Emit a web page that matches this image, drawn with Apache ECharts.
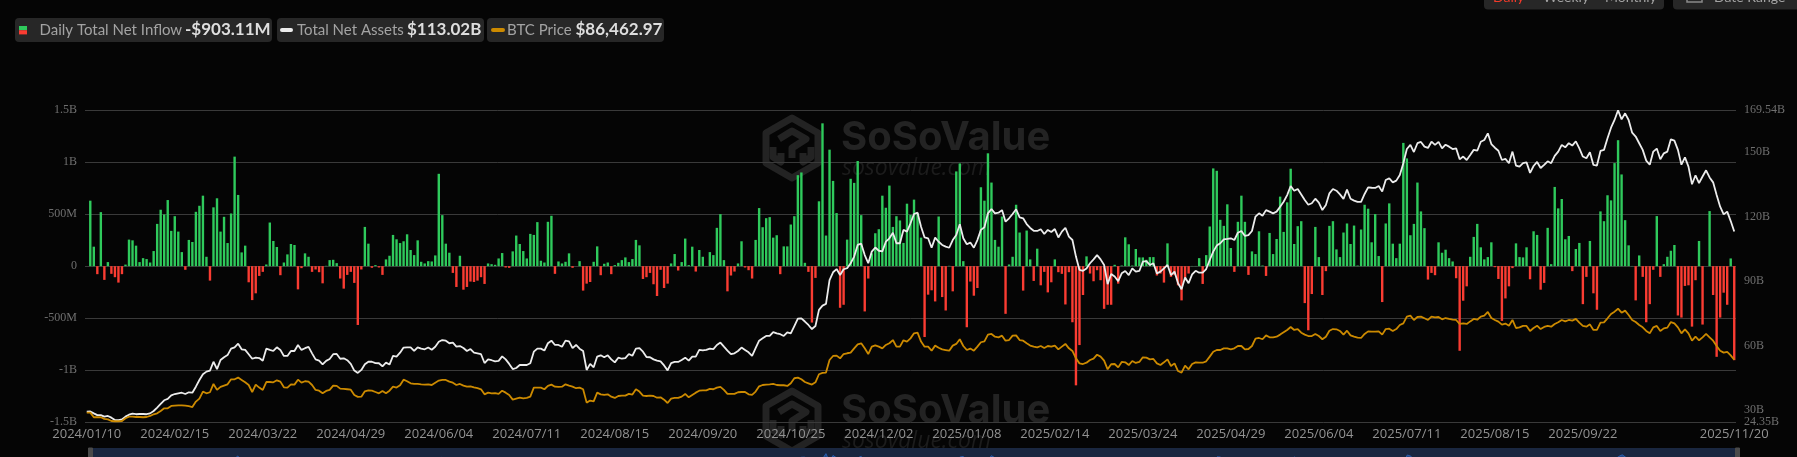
<!DOCTYPE html>
<html><head><meta charset="utf-8">
<style>html,body{margin:0;padding:0;background:#050505}#c{width:1797px;height:457px}</style>
<script src="https://cdn.jsdelivr.net/npm/echarts@6/dist/echarts.min.js"></script>
</head><body><div id="c"></div>
<script>
const marketHolidays = ['2024-01-15','2024-02-19','2024-03-29','2024-05-27','2024-06-19','2024-07-04','2024-09-02','2024-11-28','2024-12-25','2025-01-01','2025-01-09','2025-01-20','2025-02-17','2025-04-18','2025-05-26','2025-06-19','2025-07-04','2025-09-01'];
const firstDay = '2024-01-10', lastDay = '2025-11-20';
const categories = [];
for (let t = Date.parse(firstDay + 'T00:00:00Z'); t <= Date.parse(lastDay + 'T00:00:00Z'); t += 864e5) {
  const d = new Date(t), iso = d.toISOString().slice(0, 10), wd = d.getUTCDay();
  if (wd !== 0 && wd !== 6 && !marketHolidays.includes(iso)) categories.push(iso.replace(/-/g, '/'));
}
// Daily total net inflow, $M
const netInflow = [
0,629,187,-77,519,-132,39,-74,-106,-158,-77,15,255,248,197,39,77,68,35,145,406,542,497,635,339,
480,332,135,-35,252,232,522,580,677,90,-139,565,652,332,474,222,506,1052,684,132,197,-155,-326,-261,-94,
-55,16,419,242,184,-87,35,113,213,203,-223,-19,123,90,-55,-32,-58,-165,3,58,61,29,-119,-216,-84,
-55,-161,-565,-32,377,216,-16,10,-13,-84,65,100,300,258,222,239,306,155,106,248,42,26,48,45,103,
887,490,216,129,-65,-200,100,-226,-200,-148,-152,-139,-106,-171,26,19,13,74,126,-13,-16,142,294,213,145,
74,310,300,423,52,35,426,484,-74,45,26,42,123,-16,0,48,-235,-168,-152,42,190,-87,23,35,-77,
10,32,58,84,39,68,252,200,-123,-106,-65,-174,-287,-35,-210,-168,26,116,-42,39,265,10,187,-52,155,
90,2,135,106,368,500,58,-242,-90,-52,26,239,-13,-39,-119,252,558,374,461,471,274,297,-77,190,190,
400,480,874,900,32,-55,-542,-113,623,1372,294,1119,819,510,-400,-371,255,839,800,1010,490,-435,-119,123,316,
355,677,561,774,377,480,439,223,600,494,639,510,274,-681,-274,-232,-339,477,-297,-426,3,-242,910,987,48,
-587,-148,-284,-210,758,629,1084,803,252,187,477,-458,16,90,590,323,-235,342,65,-142,168,-184,-55,-252,-155,
65,-58,-74,-368,-58,-539,-1145,-758,-277,94,-71,-145,-39,-135,-410,-371,-371,13,-168,6,277,210,6,165,84,
84,61,87,87,-90,-71,-158,219,-103,-87,-184,-329,-135,-71,2,2,77,-171,106,381,939,916,445,387,594,
174,-55,426,677,426,-84,142,116,335,6,-94,319,116,261,668,329,613,936,213,384,432,-355,-616,-268,377,
87,-277,-48,387,432,161,87,323,410,213,390,6,352,590,552,229,500,97,-345,410,603,216,77,216,1184,
1035,297,406,803,526,365,-129,-65,-87,229,129,158,77,45,-116,-813,-332,-194,90,281,406,181,65,87,229,
-10,-123,-526,-310,-194,-19,219,87,84,181,-126,335,300,-226,-161,368,19,761,555,645,258,290,-48,165,223,
-365,-103,242,-261,-419,526,432,681,632,990,1210,881,442,200,2,-329,103,-103,-539,-365,-35,481,-103,19,90,
148,203,-474,-494,-190,-184,-581,-135,242,-561,0,529,-277,-871,-494,-255,-371,74,-903.11
];
// Total net assets, $B
const netAssets = [
29.3,29.4,28.5,27.7,27.7,27.0,27.3,26.5,25.4,25.4,25.7,27.0,27.9,28.4,28.1,28.2,28.2,28.1,28.5,29.6,31.2,32.9,34.6,35.2,36.9,
37.5,37.8,38.1,37.5,38.3,38.1,40.9,44.0,46.7,47.9,48.4,52.5,49.1,53.3,54.6,55.6,58.6,59.2,60.9,58.3,58.0,56.0,53.9,54.4,54.2,
53.0,58.6,58.0,57.5,59.2,58.0,55.2,55.2,57.5,57.5,60.3,58.0,58.8,59.4,56.4,53.6,53.0,51.3,52.9,53.8,56.0,56.1,53.9,54.1,53.2,
51.5,48.4,47.3,48.7,51.3,52.5,52.5,51.9,51.8,50.4,52.1,51.2,55.2,54.9,56.7,59.1,59.2,59.2,57.5,59.2,58.6,58.3,59.1,58.1,59.5,
61.8,62.6,62.3,61.1,61.4,59.5,59.8,58.9,57.5,58.4,56.7,56.4,56.0,51.9,53.6,53.2,52.7,52.9,55.0,53.6,51.5,49.1,49.6,51.0,51.0,
51.0,51.8,57.2,58.6,58.6,57.7,61.1,62.3,60.3,60.3,59.5,62.3,62.0,58.8,60.3,58.6,57.5,48.7,51.5,49.9,54.9,55.5,54.6,55.5,53.6,
52.2,54.4,53.9,54.2,56.1,55.3,58.6,58.8,57.2,54.7,54.6,53.6,53.0,52.7,50.8,48.5,51.9,52.4,52.4,53.3,54.4,53.0,54.9,54.9,58.0,
57.8,58.0,58.6,58.4,60.3,61.4,59.5,57.7,56.0,56.4,57.5,59.1,58.0,56.9,55.2,58.8,62.3,63.4,64.5,64.5,66.3,65.7,65.3,64.5,66.2,
65.7,69.1,72.5,72.7,71.2,69.6,67.7,69.1,76.6,78.6,79.4,90.5,94.1,95.6,92.8,95.5,96.0,98.3,101.4,106.8,107.4,102.1,98.3,103.7,105.6,
104.1,103.8,108.3,109.9,112.5,107.6,107.6,113.8,113.0,116.9,121.2,121.8,115.3,110.3,109.9,105.5,110.2,108.3,106.8,106.0,105.5,109.1,111.4,116.4,109.9,
107.1,107.9,105.5,109.1,113.8,115.0,121.5,123.5,121.5,121.8,123.0,117.6,119.2,121.2,123.4,119.6,119.2,116.5,114.7,113.4,113.3,114.1,111.9,113.8,112.8,
114.2,110.3,113.0,114.8,110.7,109.1,101.4,95.2,94.8,95.9,98.3,100.1,102.1,100.1,97.5,88.6,93.3,92.1,90.0,93.6,94.7,92.8,95.9,94.4,94.7,
99.0,99.3,97.5,98.3,93.6,94.4,95.9,97.5,92.8,94.4,89.0,86.2,91.7,89.0,93.1,94.8,93.9,93.9,95.6,99.8,103.7,106.5,107.6,109.4,109.6,
109.9,109.1,112.5,113.3,111.0,111.4,113.3,120.0,121.5,120.4,123.0,122.3,121.5,122.3,124.6,126.9,130.0,134.2,132.0,132.8,130.3,127.7,125.5,126.2,128.3,
126.5,123.0,125.4,130.8,132.8,132.0,130.3,128.2,132.5,128.3,127.4,126.8,126.8,130.5,133.6,133.4,133.3,134.2,131.6,137.0,137.8,135.9,136.7,139.3,144.8,
151.4,153.3,150.0,154.1,154.7,152.5,151.9,154.8,153.3,154.7,151.7,153.4,152.5,151.4,151.7,146.6,147.9,146.3,148.6,151.0,150.6,154.8,155.6,158.7,153.7,
152.0,150.6,146.3,146.8,144.8,150.2,143.7,143.2,144.8,145.2,140.3,143.5,145.4,142.6,144.0,145.7,144.8,148.2,150.2,153.3,152.2,154.1,153.0,155.0,151.7,
147.9,147.1,149.9,144.0,143.7,150.5,151.0,156.4,161.3,164.9,169.4,165.2,168.0,164.9,159.0,157.2,154.1,151.0,146.0,144.1,150.2,151.6,146.6,149.4,150.2,
155.9,155.3,151.0,144.1,147.5,143.2,135.0,139.2,135.6,138.6,141.5,138.2,135.9,130.0,124.6,121.0,122.3,117.9,113.02
];
// BTC price, $K
const btcPrice = [
45.7,45.7,42.1,42.1,42.1,40.8,40.5,39.2,39.0,39.0,39.2,41.3,42.6,42.6,42.3,42.3,42.1,42.3,43.1,44.4,45.1,47.0,49.0,49.0,50.8,
51.1,51.3,51.3,51.1,50.6,50.0,54.2,56.5,61.9,60.6,61.4,67.8,63.2,65.5,66.5,67.5,71.4,71.4,72.7,70.9,69.1,67.0,61.6,67.3,65.0,
63.2,69.3,69.3,69.1,70.6,69.6,65.2,65.0,67.5,67.3,71.1,68.8,69.9,69.6,67.0,63.2,62.6,60.6,62.4,63.2,66.5,66.3,64.2,64.0,63.7,
63.4,59.3,57.8,58.0,62.1,62.9,62.6,61.6,60.6,62.4,60.6,62.6,65.7,65.0,66.8,71.1,69.9,68.3,67.8,67.8,67.5,67.3,67.5,67.0,68.8,
70.4,70.9,70.9,69.6,68.8,67.0,67.8,66.5,65.7,66.0,65.2,64.5,63.7,59.8,61.1,60.6,60.8,60.1,62.6,61.1,59.3,55.7,56.5,57.2,56.7,
57.0,58.0,65.0,65.0,65.0,63.7,66.3,67.3,65.7,65.5,65.7,67.5,66.5,65.7,64.5,65.0,63.7,53.4,55.0,54.4,61.1,59.8,59.3,59.8,58.0,
57.0,58.5,58.8,58.8,60.1,59.6,63.7,61.9,58.8,58.5,58.8,58.5,57.2,57.5,55.7,53.1,56.5,57.0,57.0,58.0,60.1,57.5,59.3,61.1,62.6,
62.9,62.9,64.0,63.7,65.0,65.5,63.2,60.1,60.1,60.1,61.4,61.6,61.6,59.8,59.3,61.9,66.0,67.0,67.3,67.5,67.8,67.0,66.8,66.8,66.3,
68.3,72.2,72.7,71.4,69.3,68.3,67.3,69.1,75.3,76.3,76.6,86.3,89.4,89.7,87.6,90.9,91.5,92.0,95.3,98.4,99.2,95.3,90.9,96.6,97.6,
96.6,95.3,97.9,99.2,101.7,96.6,96.6,101.5,100.5,103.0,106.9,107.4,100.5,96.6,96.6,93.5,97.4,95.8,94.5,94.0,93.5,97.4,98.7,102.3,97.1,
94.0,95.1,93.5,96.6,100.0,100.7,105.9,106.4,104.3,103.8,105.1,101.2,101.7,105.1,105.3,101.7,101.2,99.2,97.4,96.6,96.1,97.1,95.6,97.1,96.6,
97.4,94.5,96.6,98.7,95.3,93.3,87.6,83.7,83.2,84.2,86.3,87.3,90.4,88.9,85.8,79.1,83.0,83.2,80.6,84.8,84.5,82.4,85.5,84.0,84.8,
88.4,88.1,86.8,87.1,83.7,82.4,84.5,86.8,81.7,83.7,77.8,76.5,81.9,79.1,83.2,84.5,84.2,84.2,85.3,88.9,92.7,94.0,94.0,95.3,95.3,
94.5,95.3,97.1,97.1,94.5,94.8,97.1,102.8,103.3,102.3,105.3,103.8,103.8,104.3,105.9,107.7,109.5,111.8,109.5,110.2,107.4,105.9,104.8,104.8,106.4,
104.8,102.3,104.3,108.9,110.2,110.0,108.7,105.9,108.9,105.3,104.3,103.5,103.3,106.4,108.4,108.2,108.2,108.4,105.9,110.2,110.5,108.7,110.2,113.3,114.6,
119.8,120.5,117.2,119.5,119.8,118.5,117.2,119.8,119.2,119.5,117.7,118.7,118.0,117.4,117.2,114.1,114.6,114.1,116.1,118.0,117.4,119.8,120.5,123.4,118.7,
117.2,115.9,113.6,114.4,112.8,117.2,111.0,111.5,112.6,112.6,108.7,111.0,112.8,110.2,111.8,112.6,112.0,114.1,115.4,117.2,116.1,117.2,116.7,118.0,115.1,
112.6,112.0,113.8,109.5,109.5,115.1,115.4,118.5,121.8,123.6,125.9,122.8,124.4,121.0,117.2,115.6,113.3,111.5,108.7,106.9,111.5,112.6,108.7,110.7,111.3,
115.6,114.6,111.5,106.9,110.0,106.9,101.2,104.3,101.5,103.8,106.4,103.8,101.2,97.1,93.5,92.0,92.5,89.9,86.46
];
const leftTicks = [-1500,-1000,-500,0,500,1000,1500];
const rightTicks = [24.35,30,60,90,120,150,169.54];
const legendItems = [
  {label:'Daily Total Net Inflow', value:'-$903.11M'},
  {label:'Total Net Assets', value:'$113.02B'},
  {label:'BTC Price', value:'$86,462.97'}
];
if (categories.length !== 469 || netInflow.length !== 469 || netAssets.length !== 469 || btcPrice.length !== 469)
  throw new Error('len ' + [categories.length, netInflow.length, netAssets.length, btcPrice.length]);

const COL = {green:'#2fca5c', red:'#fa3c32', white:'#ececec', gold:'#cc8a00', chip:'#272727', wm:'#232323', wm2:'#1c1c1c', label:'#a3a3a3', val:'#dedede'};

function chip(x, w) { return {type:'rect', shape:{x, y:18, width:w, height:24, r:4}, style:{fill:COL.chip}, silent:true, z:5}; }
function txt(x, y, text, font, fill, align) { return {type:'text', x, y, style:{text, font, fill, textAlign:align||'left', textVerticalAlign:'middle'}, silent:true, z:6}; }
function dash(x1, x2, color) { return {type:'line', shape:{x1, y1:30, x2, y2:30}, style:{stroke:color, lineWidth:4, lineCap:'round'}, silent:true, z:6}; }
function watermark(dy) {
  const s = {stroke:COL.wm, lineWidth:7, fill:'none', lineJoin:'round'};
  return [
    {type:'polygon', shape:{points:[[792,118+dy],[818,133+dy],[818,163+dy],[792,178+dy],[766,163+dy],[766,133+dy]]}, style:s, silent:true, z:-1},
    {type:'polyline', shape:{points:[[779,139+dy],[792,131+dy],[806,139+dy],[792,148+dy],[792,158+dy]]}, style:s, silent:true, z:-1},
    {type:'polyline', shape:{points:[[773,147+dy],[773,157+dy],[781,162+dy],[781,153+dy]]}, style:s, silent:true, z:-1},
    {type:'polyline', shape:{points:[[811,147+dy],[811,157+dy],[803,162+dy],[803,153+dy]]}, style:s, silent:true, z:-1},
    {type:'text', x:841, y:138+dy, style:{text:'SoSoValue', font:'bold 40px Inter', fill:COL.wm, textVerticalAlign:'middle'}, silent:true, z:-1},
    {type:'text', x:842, y:168+dy, style:{text:'sosovalue.com', font:'italic 23px "Open Sans"', fill:COL.wm2, textVerticalAlign:'middle'}, silent:true, z:-1}
  ];
}

const chart = echarts.init(document.getElementById('c'), null, {renderer:'canvas', width:1797, height:457});
chart.setOption({
  animation:false,
  backgroundColor:'#050505',
  grid:{left:85, top:110, width:1651, height:312.3, containLabel:false},
  xAxis:{type:'category', data:categories, boundaryGap:true,
    axisLine:{show:false}, axisTick:{show:false}, splitLine:{show:false},
    axisLabel:{color:'#929292', fontFamily:'Open Sans', fontSize:13, margin:5, hideOverlap:false,
      interval:(i)=> (i % 25 === 0 && i < 450) || i === categories.length - 1}},
  yAxis:[
    {type:'value', min:-1500, max:1500, interval:500, axisLine:{show:false}, axisTick:{show:false},
     splitLine:{show:true, lineStyle:{color:'#3a3a3a', width:1}},
     axisLabel:{color:'#6f6f6f', fontFamily:'Liberation Serif', fontSize:12, margin:8, padding:[0,0,3,0],
       formatter:(v)=> v === 0 ? '0' : (Math.abs(v) >= 1000 ? (v/1000) + 'B' : v + 'M')}},
    {type:'value', min:24.35, max:169.54, position:'right', axisLine:{show:false}, axisTick:{show:false}, splitLine:{show:false},
     axisLabel:{color:'#6f6f6f', fontFamily:'Liberation Serif', fontSize:12, margin:8, padding:[0,0,3,0], customValues:rightTicks, formatter:(v)=> v + 'B'}},
    {type:'value', min:38.2, max:279.3, show:false, splitLine:{show:false}}
  ],
  dataZoom:[{type:'slider', xAxisIndex:0, filterMode:'none', left:87, width:1649, top:448, height:30, start:0, end:100,
    showDataShadow:true, showDetail:false, brushSelect:false, moveHandleSize:0, zoomLock:true,
    backgroundColor:'#1a2740', borderColor:'transparent', fillerColor:'rgba(0,0,0,0)',
    dataBackground:{lineStyle:{color:'#2a5fb0', width:1}, areaStyle:{color:'#2a5fb0', opacity:0.6}},
    selectedDataBackground:{lineStyle:{color:'#2a5fb0', width:1}, areaStyle:{color:'#2a5fb0', opacity:0.6}},
    handleIcon:'path://M0,0H4V30H0Z', handleSize:'100%', handleStyle:{color:'#4a4a4a', borderColor:'#4a4a4a'}}],
  series:[
    {name:'Daily Total Net Inflow', type:'bar', yAxisIndex:0, data:netInflow, barWidth:2.4,
     itemStyle:{color:(p)=> p.value >= 0 ? COL.green : COL.red}},
    {name:'Total Net Assets', type:'line', yAxisIndex:1, data:netAssets, showSymbol:false, symbol:'none', z:4,
     lineStyle:{color:COL.white, width:1.8}},
    {name:'BTC Price', type:'line', yAxisIndex:2, data:btcPrice, showSymbol:false, symbol:'none', z:5,
     lineStyle:{color:COL.gold, width:1.8}}
  ],
  graphic:{elements:[
    ...watermark(0), ...watermark(273),
    chip(15,257), chip(277,207), chip(487,177),
    {type:'rect', shape:{x:19,y:26,width:8,height:4.2}, style:{fill:COL.green}, silent:true, z:6},
    {type:'rect', shape:{x:19,y:30.2,width:8,height:4.2}, style:{fill:COL.red}, silent:true, z:6},
    txt(39.5,30,legendItems[0].label,'15px Lato',COL.label),
    txt(185,30,legendItems[0].value,'bold 17px Lato',COL.val),
    dash(282,291,COL.white),
    txt(297,30,legendItems[1].label,'15px Lato',COL.label),
    txt(407,30,legendItems[1].value,'bold 17px Lato',COL.val),
    dash(493,503,COL.gold),
    txt(507,30,legendItems[2].label,'15px Lato',COL.label),
    txt(575.5,30,legendItems[2].value,'bold 17px Lato',COL.val),
    {type:'rect', shape:{x:1484,y:-20,width:180,height:29.5,r:4}, style:{fill:COL.chip}, silent:true, z:5},
    {type:'rect', shape:{x:1673,y:-20,width:140,height:29.5,r:4}, style:{fill:COL.chip}, silent:true, z:5},
    txt(1493,-3,'Daily','14px Lato','#f23a2a'),
    txt(1543,-3,'Weekly','14px Lato',COL.label),
    txt(1605,-3,'Monthly','14px Lato',COL.label),
    txt(1714,-3,'Date Range','14px Lato',COL.label),
    {type:'rect', shape:{x:1687,y:-8,width:15,height:10}, style:{fill:'none', stroke:'#8a8a8a', lineWidth:1.5}, silent:true, z:6}
  ]}
});
</script></body></html>
